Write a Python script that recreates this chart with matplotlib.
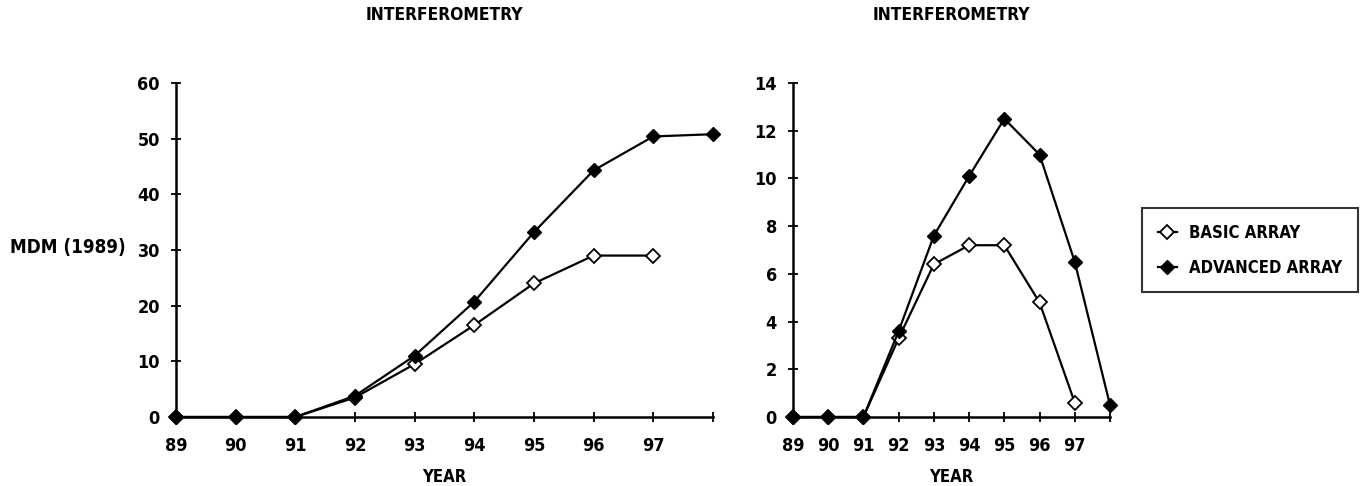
import matplotlib.pyplot as plt
import numpy as np

# data
years = [89, 90, 91, 92, 93, 94, 95, 96, 97, 98]
year_labels = ['89', '90', '91', '92', '93', '94', '95', '96', '97']

left_basic = [0, 0, 0, 3.5, 9.5, 16.5, 24.0, 29.0, 29.0]
left_advanced = [0, 0, 0, 3.8, 11.0, 20.7, 33.2, 44.3, 50.4, 50.8]

right_basic = [0, 0, 0, 3.3, 6.4, 7.2, 7.2, 4.8, 0.6]
right_advanced = [0, 0, 0, 3.6, 7.6, 10.1, 12.5, 11.0, 6.5, 0.5]

font = dict(family='DejaVu Sans', fontstretch='condensed', fontweight='bold')

fig = plt.figure(figsize=(13.66, 4.86), dpi=100)
ax1 = fig.add_axes([0.1288, 0.142, 0.3931, 0.6872])
ax2 = fig.add_axes([0.5805, 0.142, 0.2321, 0.6872])


def draw(ax, basic, adv, ymax, ystep):
    ax.plot(years[:len(basic)], basic, color='black', lw=1.6, marker='D',
            ms=7, mfc='white', mec='black', mew=1.3, clip_on=False,
            label='BASIC ARRAY', zorder=3)
    ax.plot(years[:len(adv)], adv, color='black', lw=1.6, marker='D',
            ms=7, mfc='black', mec='black', clip_on=False,
            label='ADVANCED ARRAY', zorder=4)
    ax.set_xlim(89, 98)
    ax.set_ylim(0, ymax)
    ax.set_xticks(years)
    ax.set_xticklabels(year_labels + [''])
    ax.set_yticks(np.arange(0, ymax + 1, ystep))
    for s in ['top', 'right']:
        ax.spines[s].set_visible(False)
    for s in ['left', 'bottom']:
        ax.spines[s].set_linewidth(1.8)
    ax.tick_params(direction='inout', length=7, width=1.3, labelsize=13)
    ax.tick_params(axis='x', pad=11)
    ax.tick_params(axis='y', pad=8)
    for lab in ax.get_xticklabels() + ax.get_yticklabels():
        lab.set_fontstretch('condensed')
        lab.set_fontweight('bold')
    ax.set_xlabel('YEAR', fontsize=12, va='center', **font)
    ax.xaxis.set_label_coords(0.5, -0.18)


draw(ax1, left_basic, left_advanced, 60, 10)
draw(ax2, right_basic, right_advanced, 14, 2)

fig.text(68 / 1366, 1 - 248 / 486, 'MDM (1989)', ha='center', va='center', fontsize=13.5, **font)

fig.text(0.3254, 0.969, 'INTERFEROMETRY', ha='center', va='center', fontsize=12.5, **font)
fig.text(0.6966, 0.969, 'INTERFEROMETRY', ha='center', va='center', fontsize=12.5, **font)

handles, labels = ax2.get_legend_handles_labels()
leg = fig.legend(handles, labels, loc='upper left', bbox_to_anchor=(0.836, 0.572),
                 borderaxespad=0, frameon=True, fancybox=False, edgecolor='black',
                 handlelength=1.15, handletextpad=0.7, borderpad=0.95, labelspacing=1.0,
                 prop=dict(family='DejaVu Sans', stretch='condensed', weight='bold', size=12))
leg.get_frame().set_linewidth(1.5)

fig.savefig('out.png', dpi=100)
